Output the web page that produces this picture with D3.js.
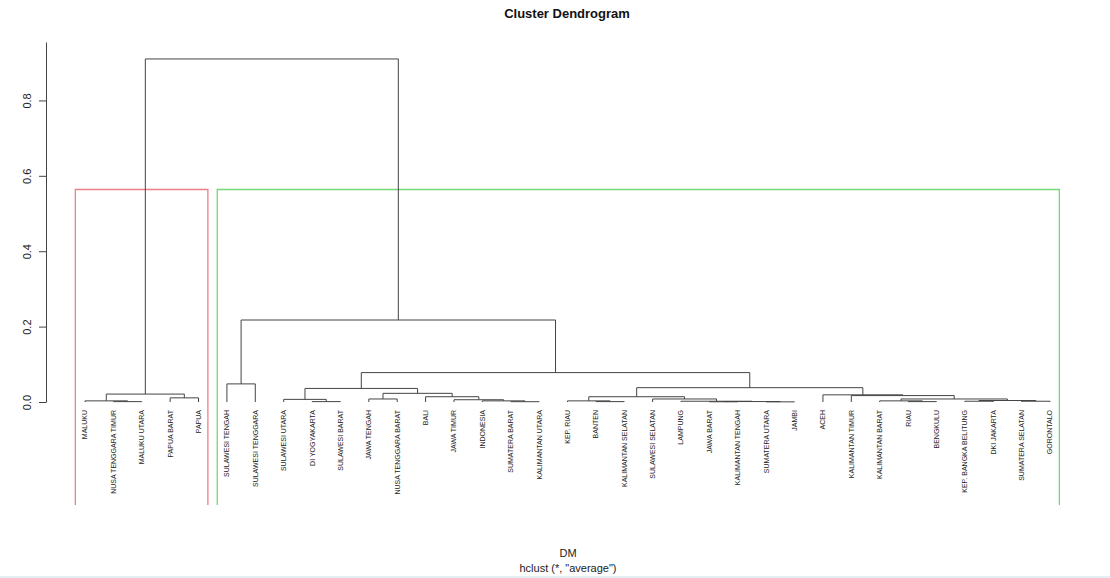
<!DOCTYPE html>
<html lang="en">
<head>
  <meta charset="UTF-8" />
  <title>Cluster Dendrogram</title>
  <style>
  body {
    margin: 0;
    background-color: #fff;
    font-family: 'Liberation Sans', Arial, sans-serif;
  }
  .link {
    fill: none;
    stroke: #444;
    stroke-width: 1;
  }
  .leaf-label {
    font-size: 7px;
    fill: #222;
  }
  .axis text {
    font-size: 11px;
    fill: #222;
  }
  .axis path, .axis line {
    stroke: #444;
  }
  </style>
</head>
<body>
  <div id="chart"></div>

  <script src="https://cdn.jsdelivr.net/npm/d3@7"></script>
<script>
  // leaf order as drawn
  const labels = [
    "MALUKU", "NUSA TENGGARA TIMUR", "MALUKU UTARA", "PAPUA BARAT", "PAPUA",
    "SULAWESI TENGAH", "SULAWESI TENGGARA", "SULAWESI UTARA", "DI YOGYAKARTA", "SULAWESI BARAT",
    "JAWA TENGAH", "NUSA TENGGARA BARAT", "BALI", "JAWA TIMUR", "INDONESIA",
    "SUMATERA BARAT", "KALIMANTAN UTARA", "KEP. RIAU", "BANTEN", "KALIMANTAN SELATAN",
    "SULAWESI SELATAN", "LAMPUNG", "JAWA BARAT", "KALIMANTAN TENGAH", "SUMATERA UTARA",
    "JAMBI", "ACEH", "KALIMANTAN TIMUR", "KALIMANTAN BARAT", "RIAU",
    "BENGKULU", "KEP. BANGKA BELITUNG", "DKI JAKARTA", "SUMATERA SELATAN", "GORONTALO"
  ];

  // hclust-style merge table: negative = leaf (1-based), positive = earlier merge row
  const mergeLeft  = [-2, -1, -4, 2, -6, -9, -8, -11, -16, -15, -14, -13, 8, 7, -19, -18, -23, -25, 17, -22, -21, 16, -30, -29, -32, -34, 25, 24, -28, -27, 22, 14, 5, 4];
  const mergeRight = [-3, 1, -5, 3, -7, -10, 6, -12, -17, 9, 10, 11, 12, 13, -20, 15, -24, -26, 18, 19, 20, 21, -31, 23, -33, -35, 26, 27, 28, 29, 30, 31, 32, 33];
  const mergeHeight = [
    0.001, 0.003, 0.011, 0.021, 0.048, 0.001, 0.007, 0.008, 0.0008, 0.003,
    0.006, 0.014, 0.023, 0.036, 0.001, 0.003, 0.0006, 0.0004, 0.0012, 0.002,
    0.008, 0.014, 0.001, 0.003, 0.002, 0.002, 0.004, 0.008, 0.017, 0.019,
    0.038, 0.078, 0.2175, 0.91
  ];
  const yTicks = [0, 0.2, 0.4, 0.6, 0.8];
  const boxColors = ["#ec7f8c", "#74d874"];

  const width = 1110, height = 578;
  const svg = d3.select("#chart").append("svg")
    .attr("width", width)
    .attr("height", height);

  const x = d3.scaleLinear().domain([1, labels.length]).range([85, 1050]);
  const y = d3.scaleLinear().domain([0, 0.955]).range([402, 42]);
  const plotBottom = 505;

  // node positions: x is the midpoint of children (like plot.hclust)
  const nodeX = [], nodeMin = [], nodeMax = [];
  function info(id) {
    if (id < 0) return { x: x(-id), h: 0, min: -id, max: -id };
    return { x: nodeX[id - 1], h: mergeHeight[id - 1], min: nodeMin[id - 1], max: nodeMax[id - 1] };
  }
  mergeLeft.forEach((l, i) => {
    const a = info(l), b = info(mergeRight[i]);
    nodeX.push((a.x + b.x) / 2);
    nodeMin.push(Math.min(a.min, b.min));
    nodeMax.push(Math.max(a.max, b.max));
  });

  // k = 2 boxes, rect.hclust style (bottom edge sits on the clipped plot border)
  const last = mergeLeft.length - 1;
  const boxTop = (mergeHeight[last] + mergeHeight[last - 1]) / 2;
  [mergeLeft[last], mergeRight[last]].forEach((id, k) => {
    const c = info(id);
    const x0 = x(c.min - 0.34), x1 = x(c.max + 0.33);
    svg.append("path")
      .attr("d", `M${x0},${plotBottom}V${y(boxTop)}H${x1}V${plotBottom}`)
      .attr("fill", "none")
      .attr("stroke", boxColors[k])
      .attr("stroke-width", 1.3);
  });

  mergeLeft.forEach((l, i) => {
    const a = info(l), b = info(mergeRight[i]);
    const h = y(mergeHeight[i]);
    svg.append("path")
      .attr("class", "link")
      .attr("d", `M${a.x},${y(a.h)}V${h}H${b.x}V${y(b.h)}`);
  });

  labels.forEach((name, i) => {
    svg.append("text")
      .attr("class", "leaf-label")
      .attr("transform", `translate(${x(i + 1)},410) rotate(-90)`)
      .attr("dy", "0.35em")
      .attr("text-anchor", "end")
      .text(name);
  });

  const yAxis = d3.axisLeft(y)
    .tickValues(yTicks)
    .tickFormat(d3.format(".1f"))
    .tickSize(7)
    .tickSizeOuter(0);

  const gy = svg.append("g")
    .attr("class", "axis")
    .attr("transform", "translate(46,0)")
    .call(yAxis);
  gy.selectAll(".tick text")
    .attr("transform", "rotate(-90)")
    .attr("x", 0)
    .attr("y", -15)
    .attr("dy", 0)
    .style("text-anchor", "middle")
    .style("font-family", "'Liberation Sans', Arial, sans-serif");

  svg.append("text")
    .attr("x", 567).attr("y", 18)
    .attr("text-anchor", "middle")
    .style("font-size", "13px")
    .style("font-weight", "bold")
    .style("fill", "#111")
    .text("Cluster Dendrogram");

  svg.append("text")
    .attr("x", 568).attr("y", 557)
    .attr("text-anchor", "middle")
    .style("font-size", "11px")
    .style("fill", "#222")
    .text("DM");

  svg.append("text")
    .attr("x", 568).attr("y", 572)
    .attr("text-anchor", "middle")
    .style("font-size", "11px")
    .style("fill", "#222")
    .text('hclust (*, "average")');

  // faint strip along the bottom edge
  svg.append("rect")
    .attr("x", 0).attr("y", 576)
    .attr("width", width).attr("height", 2)
    .attr("fill", "#e2f0f3");
</script>
</body>
</html>
